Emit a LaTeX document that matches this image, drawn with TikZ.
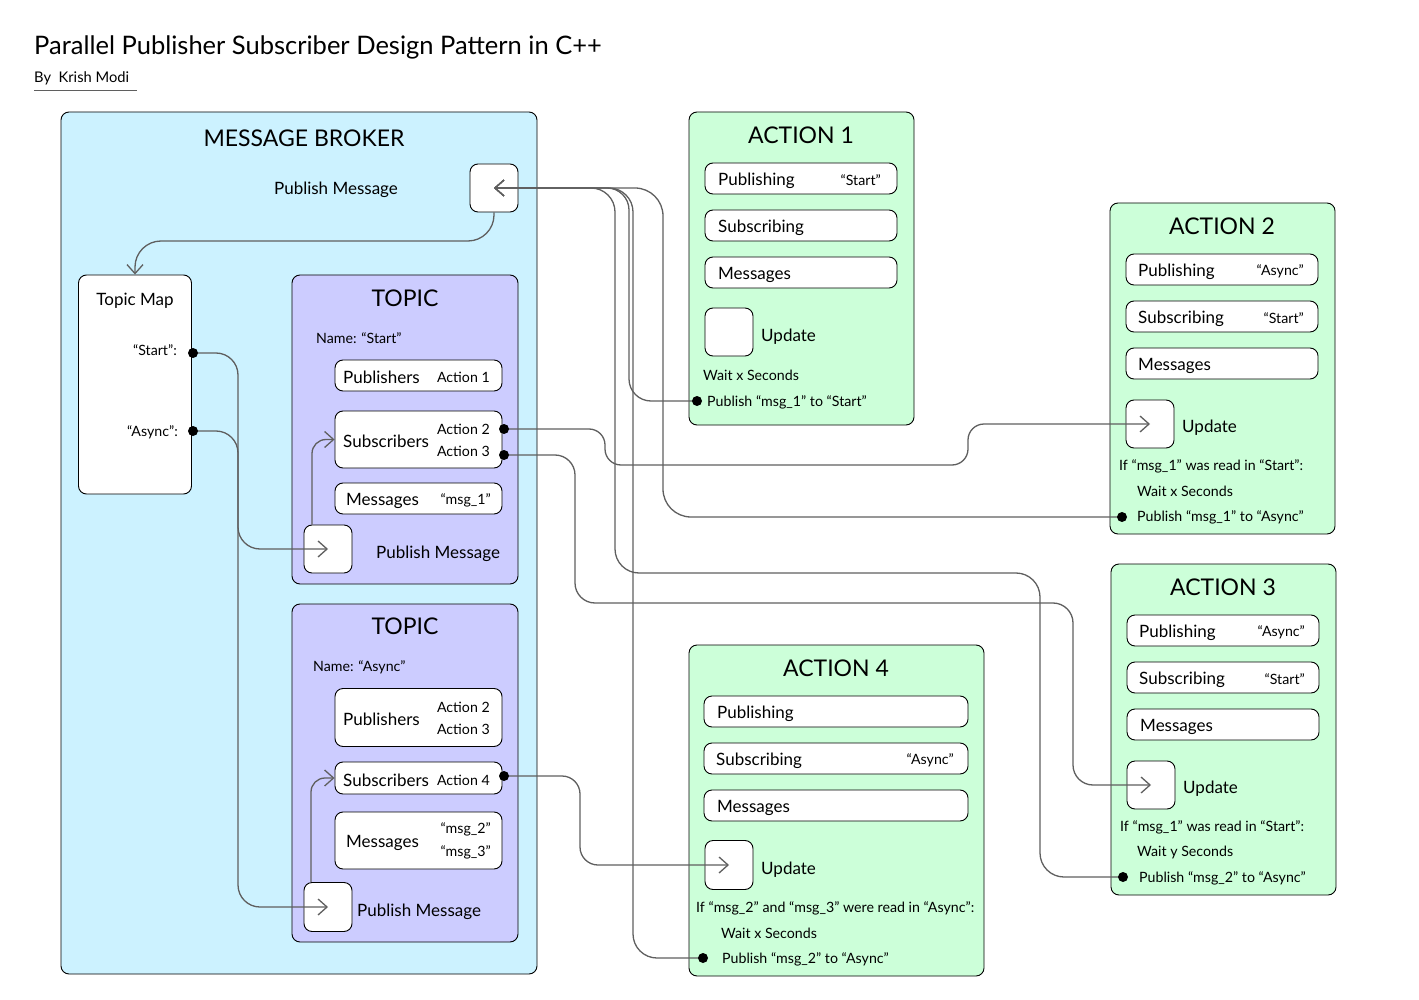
\documentclass[tikz,border=0pt]{standalone}
\usepackage{fontspec}
\setmainfont{Lato}
\usetikzlibrary{arrows.meta}
\definecolor{brokerfill}{RGB}{204,242,255}
\definecolor{topicfill}{RGB}{204,204,255}
\definecolor{actionfill}{RGB}{204,255,217}
\definecolor{linegray}{RGB}{95,95,95}
\tikzset{
  box/.style={draw=black, line width=0.9pt, rounded corners=8pt, fill=white, inner sep=0pt},
  conn/.style={draw=linegray, line width=1.3pt, rounded corners=18pt},
  arr/.style={-{Straight Barb[length=9pt,width=16pt]}},
  dotn/.style={circle, fill=black, inner sep=0pt, minimum size=10pt},
  big/.style={inner sep=0pt, yshift=-1.5pt, font=\fontsize{23}{26}\selectfont},
  mid/.style={inner sep=0pt, yshift=-2pt, font=\fontsize{17}{20}\selectfont},
  small/.style={inner sep=0pt, yshift=-1.5pt, font=\fontsize{14.2}{17}\selectfont},
}
\begin{document}
\begin{tikzpicture}[x=1pt,y=-1pt]
\useasboundingbox (0,0) rectangle (1419,1000);

% title
\node[inner sep=0pt, anchor=west, yshift=-2pt, font=\fontsize{25.5}{30}\selectfont] (title) at (34,45) {Parallel Publisher Subscriber Design Pattern in C++};
\node[inner sep=0pt, anchor=west, yshift=-1.5pt, font=\fontsize{14.7}{17}\selectfont] (byline) at (34,77) {By\ \ Krish Modi};
\coordinate (ul1) at (34,90);
\coordinate (ul2) at (137,90);
\draw[line width=0.8pt, draw=linegray] (ul1) -- (ul2);

% message broker
\node[box, fill=brokerfill, minimum width=476pt, minimum height=862pt] (broker) at (299,543) {};
\node[big] (brokertitle) at (304,137) {MESSAGE BROKER};
\node[mid] (brokerpubtxt) at (336,188) {Publish Message};
\node[box, minimum width=48pt, minimum height=48pt] (pb) at (494,188) {};

% topic map
\node[box, minimum width=113pt, minimum height=219pt] (tmap) at (135,384.5) {};
\node[mid] (tmaptitle) at (135,299) {Topic Map};
\node[small, anchor=east] (tmapstart) at (177,349) {“Start”:};
\node[small, anchor=east] (tmapasync) at (178,431) {“Async”:};

% topic start
\node[box, fill=topicfill, minimum width=226pt, minimum height=309pt] (topicS) at (405,429.5) {};
\node[big] (topicStitle) at (405,297) {TOPIC};
\node[small, anchor=west] (topicSname) at (316,337) {Name: “Start”};
\node[box, minimum width=167pt, minimum height=31pt] (pubS) at (418.5,375.5) {};
\node[mid, anchor=west] (pubSt) at (343,375.5) {Publishers};
\node[small, anchor=east] (pubSa) at (490,375.5) {Action 1};
\node[box, minimum width=167pt, minimum height=57pt] (subS) at (418.5,439.5) {};
\node[mid, anchor=west] (subSt) at (343,439.5) {Subscribers};
\node[small, anchor=east] (subSa) at (490,428) {Action 2};
\node[small, anchor=east] (subSb) at (490,450) {Action 3};
\node[box, minimum width=167pt, minimum height=31pt] (msgS) at (418.5,498.5) {};
\node[mid, anchor=west] (msgSt) at (346,498.5) {Messages};
\node[small, anchor=east] (msgSa) at (491,498.5) {“msg\_1”};
\node[box, minimum width=48pt, minimum height=48pt] (tp1) at (328,549) {};
\node[mid, anchor=west] (tp1t) at (376,552) {Publish Message};

% topic async
\node[box, fill=topicfill, minimum width=226pt, minimum height=338pt] (topicA) at (405,773) {};
\node[big] (topicAtitle) at (405,625) {TOPIC};
\node[small, anchor=west] (topicAname) at (313,666) {Name: “Async”};
\node[box, minimum width=167pt, minimum height=58pt] (pubA) at (418.5,717.5) {};
\node[mid, anchor=west] (pubAt) at (343,717.5) {Publishers};
\node[small, anchor=east] (pubAa) at (490,706) {Action 2};
\node[small, anchor=east] (pubAb) at (490,728) {Action 3};
\node[box, minimum width=167pt, minimum height=32pt] (subA) at (418.5,778) {};
\node[mid, anchor=west] (subAt) at (343,778) {Subscribers};
\node[small, anchor=east] (subAa) at (490,779) {Action 4};
\node[box, minimum width=167pt, minimum height=57pt] (msgA) at (418.5,840.5) {};
\node[mid, anchor=west] (msgAt) at (346,841) {Messages};
\node[small, anchor=east] (msgAa) at (491,828) {“msg\_2”};
\node[small, anchor=east] (msgAb) at (491,851) {“msg\_3”};
\node[box, minimum width=48pt, minimum height=49pt] (tp2) at (328,907) {};
\node[mid, anchor=west] (tp2t) at (357,910) {Publish Message};

% action 1
\node[box, fill=actionfill, minimum width=225pt, minimum height=313pt] (act1) at (801.5,268.5) {};
\node[big] (act1t) at (801,134) {ACTION 1};
\node[box, minimum width=192pt, minimum height=31pt] (a1pub) at (801,178.5) {};
\node[mid, anchor=west] (a1pubt) at (718,178.5) {Publishing};
\node[small, anchor=east] (a1pubv) at (881,178.5) {“Start”};
\node[box, minimum width=192pt, minimum height=31pt] (a1sub) at (801,225.5) {};
\node[mid, anchor=west] (a1subt) at (718,225.5) {Subscribing};
\node[box, minimum width=192pt, minimum height=31pt] (a1msg) at (801,272.5) {};
\node[mid, anchor=west] (a1msgt) at (718,272.5) {Messages};
\node[box, minimum width=48pt, minimum height=48pt] (a1up) at (729,332) {};
\node[mid, anchor=west] (a1upt) at (761,335) {Update};
\node[small, anchor=west] (a1wait) at (703,374) {Wait x Seconds};
\node[small, anchor=west] (a1pt) at (707,401) {Publish “msg\_1” to “Start”};

% action 2
\node[box, fill=actionfill, minimum width=225pt, minimum height=331pt] (act2) at (1222.5,368.5) {};
\node[big] (act2t) at (1222,225) {ACTION 2};
\node[box, minimum width=192pt, minimum height=31pt] (a2pub) at (1222,269.5) {};
\node[mid, anchor=west] (a2pubt) at (1138,269.5) {Publishing};
\node[small, anchor=east] (a2pubv) at (1304,269.5) {“Async”};
\node[box, minimum width=192pt, minimum height=31pt] (a2sub) at (1222,316.5) {};
\node[mid, anchor=west] (a2subt) at (1138,316.5) {Subscribing};
\node[small, anchor=east] (a2subv) at (1304,316.5) {“Start”};
\node[box, minimum width=192pt, minimum height=31pt] (a2msg) at (1222,363.5) {};
\node[mid, anchor=west] (a2msgt) at (1138,363.5) {Messages};
\node[box, minimum width=48pt, minimum height=48pt] (a2up) at (1150,424) {};
\node[mid, anchor=west] (a2upt) at (1182,426) {Update};
\node[small, anchor=west] (a2if) at (1119,465) {If “msg\_1” was read in “Start”:};
\node[small, anchor=west] (a2wait) at (1137,490) {Wait x Seconds};
\node[small, anchor=west] (a2pt) at (1137,516) {Publish “msg\_1” to “Async”};

% action 3
\node[box, fill=actionfill, minimum width=225pt, minimum height=331pt] (act3) at (1223.5,729.5) {};
\node[big] (act3t) at (1223,586) {ACTION 3};
\node[box, minimum width=192pt, minimum height=31pt] (a3pub) at (1223,630.5) {};
\node[mid, anchor=west] (a3pubt) at (1139,630.5) {Publishing};
\node[small, anchor=east] (a3pubv) at (1305,630.5) {“Async”};
\node[box, minimum width=192pt, minimum height=31pt] (a3sub) at (1223,677.5) {};
\node[mid, anchor=west] (a3subt) at (1139,677.5) {Subscribing};
\node[small, anchor=east] (a3subv) at (1305,677.5) {“Start”};
\node[box, minimum width=192pt, minimum height=31pt] (a3msg) at (1223,724.5) {};
\node[mid, anchor=west] (a3msgt) at (1140,724.5) {Messages};
\node[box, minimum width=48pt, minimum height=48pt] (a3up) at (1151,785) {};
\node[mid, anchor=west] (a3upt) at (1183,787) {Update};
\node[small, anchor=west] (a3if) at (1120,826) {If “msg\_1” was read in “Start”:};
\node[small, anchor=west] (a3wait) at (1137,851) {Wait y Seconds};
\node[small, anchor=west] (a3pt) at (1139,877) {Publish “msg\_2” to “Async”};

% action 4
\node[box, fill=actionfill, minimum width=295pt, minimum height=331pt] (act4) at (836.5,810.5) {};
\node[big] (act4t) at (836,667) {ACTION 4};
\node[box, minimum width=264pt, minimum height=31pt] (a4pub) at (836,711.5) {};
\node[mid, anchor=west] (a4pubt) at (717,711.5) {Publishing};
\node[box, minimum width=264pt, minimum height=31pt] (a4sub) at (836,758.5) {};
\node[mid, anchor=west] (a4subt) at (716,758.5) {Subscribing};
\node[small, anchor=east] (a4subv) at (954,758.5) {“Async”};
\node[box, minimum width=264pt, minimum height=31pt] (a4msg) at (836,805.5) {};
\node[mid, anchor=west] (a4msgt) at (717,805.5) {Messages};
\node[box, minimum width=48pt, minimum height=49pt] (a4up) at (729,865) {};
\node[mid, anchor=west] (a4upt) at (761,868) {Update};
\node[small, anchor=west] (a4if) at (696,907) {If “msg\_2” and “msg\_3” were read in “Async”:};
\node[small, anchor=west] (a4wait) at (721,932) {Wait x Seconds};
\node[small, anchor=west] (a4pt) at (722,958) {Publish “msg\_2” to “Async”};

% dots
\coordinate (dTS) at (193,353);
\coordinate (dTA) at (193,431);
\coordinate (dS1) at (504,429);
\coordinate (dS2) at (504,455);
\coordinate (dA4) at (504,776);
\coordinate (d1) at (697,401);
\coordinate (d2) at (1122,517);
\coordinate (d3) at (1123,877);
\coordinate (d4) at (703,958);

% connectors into broker publish
\draw[conn, arr, rounded corners=22pt] (d1) -| (629,188) -- (pb.center);
\draw[conn, arr, rounded corners=28pt] (d2) -| (663,188) -- (pb.center);
\draw[conn, arr, rounded corners=24pt] (d3) -| (1040,573) -| (615,188) -- (pb.center);
\draw[conn, arr, rounded corners=24pt] (d4) -| (633,188) -- (pb.center);

% subscribers to updates
\draw[conn, arr, rounded corners=16pt] (dS1) -| (605,465) -| (968,424) -- (a2up.center);
\draw[conn, arr, rounded corners=20pt] (dS2) -| (575,603) -| (1073,785) -- (a3up.center);
\draw[conn, arr, rounded corners=18pt] (dA4) -| (580,865) -- (a4up.center);

% inside broker
\draw[conn, arr, rounded corners=26pt] (pb.south) |- (135,241) -- (tmap.north);
\draw[conn, arr, rounded corners=22pt] (dTS) -| (238,549) -- (tp1.center);
\draw[conn, arr, rounded corners=22pt] (dTA) -| (238,907) -- (tp2.center);
\draw[conn, arr, rounded corners=14pt] ([xshift=-16pt]tp1.north) |- (subS.west);
\draw[conn, arr, rounded corners=14pt] ([xshift=-17pt]tp2.north) |- (subA.west);

% dot markers
\foreach \d in {dTS,dTA,dS1,dS2,dA4,d1,d2,d3,d4}
  \node[dotn] (m\d) at (\d) {};
\end{tikzpicture}
\end{document}
